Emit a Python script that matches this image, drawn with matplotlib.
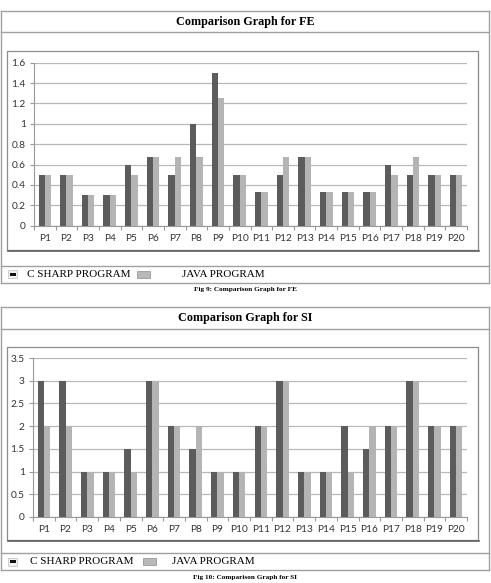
import matplotlib
matplotlib.use("Agg")
import matplotlib.pyplot as plt
from matplotlib.patches import Rectangle
from matplotlib.lines import Line2D
import numpy as np

categories = [f"P{i}" for i in range(1, 21)]
fe_csharp = [0.5, 0.5, 0.3, 0.3, 0.6, 0.67, 0.5, 1.0, 1.5, 0.5, 0.33, 0.5, 0.67, 0.33, 0.33, 0.33, 0.6, 0.5, 0.5, 0.5]
fe_java = [0.5, 0.5, 0.3, 0.3, 0.5, 0.67, 0.67, 0.67, 1.25, 0.5, 0.33, 0.67, 0.67, 0.33, 0.33, 0.33, 0.5, 0.67, 0.5, 0.5]
si_csharp = [3, 3, 1, 1, 1.5, 3, 2, 1.5, 1, 1, 2, 3, 1, 1, 2, 1.5, 2, 3, 2, 2]
si_java = [2, 2, 1, 1, 1, 3, 2, 2, 1, 1, 2, 3, 1, 1, 1, 2, 2, 3, 2, 2]
fe_yticks = [0, 0.2, 0.4, 0.6, 0.8, 1, 1.2, 1.4, 1.6]
fe_yticklabels = ["0", "0.2", "0.4", "0.6", "0.8", "1", "1.2", "1.4", "1.6"]
si_yticks = [0, 0.5, 1, 1.5, 2, 2.5, 3, 3.5]
si_yticklabels = ["0", "0.5", "1", "1.5", "2", "2.5", "3", "3.5"]
series_names = ["C SHARP PROGRAM", "JAVA PROGRAM"]
titles = ["Comparison Graph for FE", "Comparison Graph for SI"]
captions = ["Fig 9: Comparison Graph for FE", "Fig 10: Comparison Graph for SI"]

W, H = 491, 583
fig = plt.figure(figsize=(W / 100, H / 100), dpi=100)
fig.patch.set_facecolor("white")

DARK = "#5c5c5c"
LIGHT = "#b4b4b4"
GRID = "#b8b8b8"
TABLE = "#a0a0a0"
SERIF = ["Liberation Serif", "DejaVu Serif"]
TICKFONT = ["Lato", "DejaVu Sans"]


def fx(x):
    return x / W


def fy(y):
    return 1 - y / H


def hline(x0, x1, y, color=TABLE, lw=1.0):
    fig.add_artist(Line2D([fx(x0), fx(x1)], [fy(y), fy(y)], color=color, lw=lw, transform=fig.transFigure))


def vline(x, y0, y1, color=TABLE, lw=1.0):
    fig.add_artist(Line2D([fx(x), fx(x)], [fy(y0), fy(y1)], color=color, lw=lw, transform=fig.transFigure))


def panel(top, title_bot, legend_top, legend_bot, inner, axbox, c1, c2, yticks, ylabels, title, caption, caption_y, leg_x):
    # table frame
    hline(0.5, 489, top)
    hline(0.5, 489, title_bot)
    hline(0.5, 489, legend_top)
    hline(0.5, 489, legend_bot)
    vline(0.5, top, legend_bot)
    vline(489, top, legend_bot)
    fig.text(fx(245), fy((top + title_bot) / 2), title, ha="center", va="center",
             fontsize=8.7, fontweight="bold", family=SERIF)
    # inner chart box
    ix0, iy0, ix1, iy1 = inner
    fig.add_artist(Rectangle((fx(ix0), fy(iy1)), fx(ix1 - ix0), fy(iy0) - fy(iy1),
                             transform=fig.transFigure, fill=False, edgecolor="#8c8c8c", lw=0.9))
    hline(ix0 + 1, ix1 + 1, iy1 + 1, color="#606060", lw=1.2)
    # axes
    ax0, ay0, ax1, ay1 = axbox
    ax = fig.add_axes([fx(ax0), fy(ay1), fx(ax1 - ax0), fy(ay0) - fy(ay1)])
    x = np.arange(len(categories))
    w = 0.29
    ax.bar(x - w / 2, c1, width=w, color=DARK, zorder=3, linewidth=0)
    ax.bar(x + w / 2, c2, width=w, color=LIGHT, zorder=3, linewidth=0)
    ax.set_xlim(-0.5, len(categories) - 0.5)
    ax.set_ylim(yticks[0], yticks[-1])
    ax.set_yticks(yticks)
    ax.set_yticklabels(ylabels, family=TICKFONT, fontsize=7.3, color="#333333")
    ax.set_xticks(x)
    ax.set_xticklabels(categories, family=TICKFONT, fontsize=7.3, color="#333333")
    ax.set_xticks(np.arange(len(categories) + 1) - 0.5, minor=True)
    ax.tick_params(axis="x", which="major", length=0, pad=6)
    ax.tick_params(axis="x", which="minor", length=3, color="#999999", width=0.8)
    ax.tick_params(axis="y", length=3, color="#999999", width=0.8, pad=3)
    ax.yaxis.grid(True, color=GRID, lw=0.9, zorder=0)
    ax.set_axisbelow(True)
    for s in ["top", "right"]:
        ax.spines[s].set_visible(False)
    ax.spines["left"].set_color("#999999")
    ax.spines["bottom"].set_color("#999999")
    ax.spines["left"].set_linewidth(0.8)
    ax.spines["bottom"].set_linewidth(0.8)
    # legend row
    ly = (legend_top + legend_bot) / 2
    fig.add_artist(Rectangle((fx(8), fy(ly + 4)), fx(9), fy(ly - 4) - fy(ly + 4),
                             transform=fig.transFigure, facecolor="#f2f2f2", edgecolor="#c8c8c8", lw=0.6))
    fig.add_artist(Rectangle((fx(9.5), fy(ly + 1.5)), fx(6), fy(ly - 1.5) - fy(ly + 1.5),
                             transform=fig.transFigure, facecolor="#111111", edgecolor="none"))
    fig.text(fx(leg_x[0]), fy(ly), series_names[0], ha="left", va="center", fontsize=8, family=SERIF)
    fig.add_artist(Rectangle((fx(leg_x[1]), fy(ly + 3.5)), fx(13), fy(ly - 3.5) - fy(ly + 3.5),
                             transform=fig.transFigure, facecolor="#b9b9b9", edgecolor="#9a9a9a", lw=0.6))
    fig.text(fx(leg_x[2]), fy(ly), series_names[1], ha="left", va="center", fontsize=8, family=SERIF)
    fig.text(fx(245), fy(caption_y), caption, ha="center", va="center",
             fontsize=5.2, fontweight="bold", family=SERIF)


panel(11, 32, 265.5, 283, (7, 51, 478, 250), (34, 62.7, 467, 225.7),
      fe_csharp, fe_java, fe_yticks, fe_yticklabels, titles[0], captions[0], 290, (27, 137, 182))
panel(307, 329, 553, 570, (7, 347, 478, 540), (33, 358, 467, 517),
      si_csharp, si_java, si_yticks, si_yticklabels, titles[1], captions[1], 578, (30, 143, 172))

fig.savefig("out.png", dpi=100, facecolor="white")
